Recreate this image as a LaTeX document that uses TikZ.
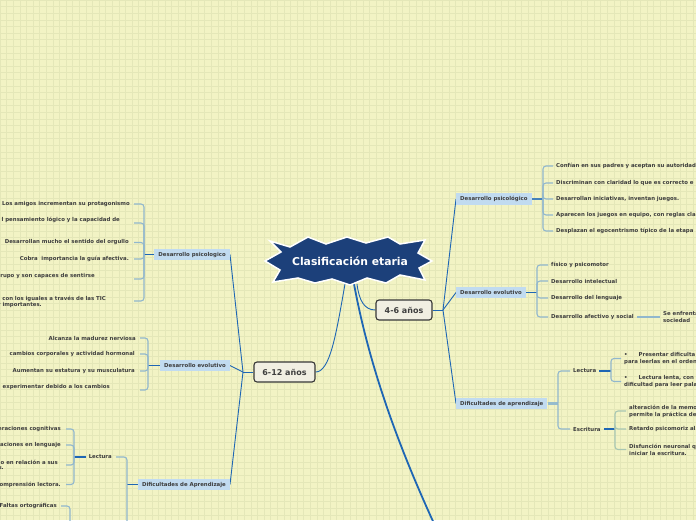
\documentclass[tikz,border=0pt]{standalone}
\usepackage{fontspec}
\newfontfamily\dv{DejaVu Sans}
\definecolor{bg}{RGB}{242,243,196}
\definecolor{gridc}{RGB}{228,231,184}
\definecolor{navy}{RGB}{28,64,122}
\definecolor{linkb}{RGB}{30,102,180}
\definecolor{labb}{RGB}{193,219,240}
\definecolor{brkc}{RGB}{145,183,205}
\definecolor{brkg}{RGB}{168,198,178}
\definecolor{txtc}{RGB}{62,62,62}
\definecolor{agef}{RGB}{241,239,226}
\definecolor{ageb}{RGB}{55,55,55}
\definecolor{stubc}{RGB}{70,130,185}
\definecolor{stubp}{RGB}{150,188,205}
\pgfdeclarelayer{bgl}
\pgfdeclarelayer{lines}
\pgfsetlayers{bgl,lines,main}
\tikzset{
 small/.style={font=\dv\bfseries\fontsize{5.4}{7}\selectfont, text=txtc, inner sep=0pt},
 ml/.style={small, align=left},
 lab/.style={small, fill=labb, inner xsep=4pt, inner ysep=3pt, text height=4.2pt, text depth=1.2pt},
 age/.style={draw=ageb, line width=1.1pt, fill=agef, rounded corners=3pt, font=\dv\bfseries\fontsize{8}{9}\selectfont, text=txtc, minimum height=20pt, inner sep=0pt},
 conn/.style={draw=linkb, line width=0.9pt},
 brk/.style={draw=brkc, line width=1.1pt, rounded corners=3pt},
 brkgr/.style={draw=brkg, line width=1.1pt, rounded corners=3pt},
 stub/.style={draw=linkb, line width=1.6pt},
 tick/.style={shorten >=3pt},
}
\begin{document}
\begin{tikzpicture}[x=1pt,y=-1pt]
\useasboundingbox (0,0) rectangle (696,520);
\begin{pgfonlayer}{bgl}
\fill[bg] (0,0) rectangle (696,520);
\foreach \g in {0,6.6,...,700} {\draw[gridc, line width=0.5pt] (\g,0) -- (\g,520);}
\foreach \g in {0,6.6,...,525} {\draw[gridc, line width=0.5pt] (0,\g) -- (696,\g);}
\end{pgfonlayer}

% central star
\fill[navy, draw=white, line width=1.5pt, line join=miter]
 (265,261) -- (281,252) -- (270,241) -- (290,247) -- (308,237) -- (326,244) -- (347,237) -- (366,243) -- (388,237) -- (400,244) -- (425,240) -- (418,253) -- (432,261) -- (419,268) -- (425,280) -- (400,275) -- (386,283) -- (367,278) -- (350,285) -- (332,279) -- (315,283) -- (298,278) -- (273,282) -- (280,270) -- cycle;
\node[font=\dv\bfseries\fontsize{10.8}{12}\selectfont, text=white, inner sep=0pt] (root) at (350,261) {Clasificación etaria};
\coordinate (s1) at (345,284);
\coordinate (s2) at (357,284);
\coordinate (s3) at (354,284);
\coordinate (off) at (437,530);

% age nodes
\node[age, minimum width=56pt] (a46) at (404,310) {4-6 años};
\node[age, minimum width=61pt] (a612) at (284.5,372) {6-12 años};

% ===== 4-6 años =====
\coordinate (j46) at (443,310);
\node[lab, anchor=west] (dp46) at (456,199) {Desarrollo psicológico};
\node[lab, anchor=west] (de46) at (456,292.5) {Desarrollo evolutivo};
\node[lab, anchor=west] (da46) at (456,403.5) {Dificultades de aprendizaje};

\coordinate (bp46) at (543,199);
\node[small, anchor=west] (r1) at (556,166) {Confían en sus padres y aceptan su autoridad};
\node[small, anchor=west] (r2) at (556,183) {Discriminan con claridad lo que es correcto e};
\node[small, anchor=west] (r3) at (556,199) {Desarrollan iniciativas, inventan juegos.};
\node[small, anchor=west] (r4) at (556,215) {Aparecen los juegos en equipo, con reglas cla};
\node[small, anchor=west] (r5) at (556,231) {Desplazan el egocentrismo típico de la etapa};

\coordinate (be46) at (537,292.5);
\node[small, anchor=west] (e1) at (551,265) {físico y psicomotor};
\node[small, anchor=west] (e2) at (551,281) {Desarrollo intelectual};
\node[small, anchor=west] (e3) at (551,298) {Desarrollo del lenguaje};
\node[small, anchor=west] (e4) at (551,317) {Desarrollo afectivo y social};
\node[ml, anchor=west] (se) at (663,317) {Se enfrenta\\sociedad};

\coordinate (bd46) at (558,403.5);
\node[small, anchor=west] (l46) at (573,371) {Lectura};
\node[small, anchor=west] (w46) at (573,429) {Escritura};
\coordinate (bl46) at (611,371);
\node[ml, anchor=west] (lc1) at (624,358.5) {•\hspace{11pt}Presentar dificulta\\para leerlas en el orden};
\node[ml, anchor=west] (lc2) at (624,381.5) {•\hspace{11pt}Lectura lenta, con\\dificultad para leer pala};
\coordinate (bw46) at (615,429);
\node[ml, anchor=west] (wc1) at (629,411) {alteración de la memo\\permite la práctica de};
\node[small, anchor=west] (wc2) at (629,429) {Retardo psicomoriz al};
\node[ml, anchor=west] (wc3) at (629,449.5) {Disfunción neuronal q\\iniciar la escritura.};

% ===== 6-12 años =====
\coordinate (j612) at (243,372);
\node[lab, anchor=east] (dp612) at (230,254.5) {Desarrollo psicologico};
\node[lab, anchor=east] (de612) at (230,365.5) {Desarrollo evolutivo};
\node[lab, anchor=east] (da612) at (230,484.5) {Dificultades de Aprendizaje};

\coordinate (bp612) at (144,254.5);
\node[small, anchor=east] (p1) at (130,204) {Los amigos incrementan su protagonismo};
\node[small, anchor=east] (p2) at (120,220) {l pensamiento lógico y la capacidad de};
\node[small, anchor=east] (p3) at (129,242.5) {Desarrollan mucho el sentido del orgullo};
\node[small, anchor=east] (p4) at (129,259) {Cobra\ \ importancia la guía afectiva.};
\node[small, anchor=east] (p5) at (95,276) {rupo y son capaces de sentirse};
\node[small, anchor=east] (p6) at (106,298.5) {con los iguales a través de las TIC};
\node[small, anchor=east] (p6b) at (42,305.5) {r importantes.};
\coordinate (pt1) at (134,204);
\coordinate (pt2) at (134,223);
\coordinate (pt3) at (134,242.5);
\coordinate (pt4) at (134,259);
\coordinate (pt5) at (134,279);
\coordinate (pt6) at (134,301);

\coordinate (be612) at (148,365.5);
\node[small, anchor=east] (v1) at (136,338) {Alcanza la madurez nerviosa};
\node[small, anchor=east] (v2) at (135,354) {cambios corporales y actividad hormonal};
\node[small, anchor=east] (v3) at (135,371) {Aumentan su estatura y su musculatura};
\node[small, anchor=east] (v4) at (110,387) {experimentar debido a los cambios};
\coordinate (vt1) at (140,338);
\coordinate (vt2) at (140,354);
\coordinate (vt3) at (140,371);
\coordinate (vt4) at (140,390);

\coordinate (bd612) at (127,484.5);
\node[small, anchor=east] (lec612) at (112,457) {Lectura};
\coordinate (lect) at (116,457);
\coordinate (esct) at (116,560);
\coordinate (bl612) at (74,457);
\node[small, anchor=east] (c1) at (61,429) {eraciones cognitivas};
\node[small, anchor=east] (c2) at (61,445) {aciones en lenguaje};
\node[small, anchor=east] (c3) at (58,462) {o en relación a sus};
\node[small, anchor=east] (c3b) at (4,468.5) {s.};
\node[small, anchor=east] (c4) at (61,484.5) {omprensión lectora.};
\coordinate (ct1) at (66,429);
\coordinate (ct2) at (66,445);
\coordinate (ct3) at (66,465);
\coordinate (ct4) at (66,484.5);
\node[small, anchor=east] (fo) at (57,506) {Faltas ortográficas};
\coordinate (fot) at (61,506);
\coordinate (bfo) at (70,545);

% ===== connectors =====
\begin{pgfonlayer}{lines}
\draw[conn] (s2) .. controls (359,300) and (364,310) .. (a46.west);
\draw[conn] (s1) .. controls (336,335) and (330,372) .. (a612.east);
\draw[linkb, line width=1.8pt] (s3) .. controls (370,370) and (400,450) .. (off);

\draw[conn] (a46.east) -- (j46);
\draw[conn] (j46) -- (dp46.west);
\draw[conn] (j46) -- (de46.west);
\draw[conn] (j46) -- (da46.west);

\draw[stubc, line width=1.8pt] (dp46.east) -- (bp46);
\foreach \n in {r1,r2,r3,r4,r5} {\draw[brk, tick] (bp46) |- (\n.west);}

\draw[linkb, line width=1.2pt] (de46.east) -- (be46);
\foreach \n in {e1,e2,e3,e4} {\draw[brk, tick] (be46) |- (\n.west);}
\draw[brk, shorten <=3pt, shorten >=3pt] (e4.east) -- (se.west);

\draw[stubp, line width=2.4pt] (da46.east) -- (bd46);
\foreach \n in {l46,w46} {\draw[brk, tick] (bd46) |- (\n.west);}
\draw[linkb, line width=1.1pt, shorten <=3pt] (l46.east) -- (bl46);
\foreach \n in {lc1,lc2} {\draw[brk, tick] (bl46) |- (\n.west);}
\draw[linkb, line width=1.1pt, shorten <=3pt] (w46.east) -- (bw46);
\foreach \n in {wc1,wc2,wc3} {\draw[brkgr, tick] (bw46) |- (\n.west);}

\draw[conn] (a612.west) -- (j612);
\draw[conn] (j612) -- (dp612.east);
\draw[conn] (j612) -- (de612.east);
\draw[conn] (j612) -- (da612.east);

\draw[stub] (dp612.west) -- (bp612);
\foreach \n in {pt1,pt2,pt3,pt4,pt5,pt6} {\draw[brk] (bp612) |- (\n);}
\draw[stub] (de612.west) -- (be612);
\foreach \n in {vt1,vt2,vt3,vt4} {\draw[brk] (be612) |- (\n);}
\draw[linkb, line width=1.3pt] (da612.west) -- (bd612);
\draw[brk] (bd612) |- (lect);
\draw[brk] (bd612) |- (esct);
\draw[stub, shorten <=3pt] (lec612.west) -- (bl612);
\foreach \n in {ct1,ct2,ct3,ct4} {\draw[brk] (bl612) |- (\n);}
\draw[brk] (bfo) |- (fot);
\end{pgfonlayer}
\end{tikzpicture}
\end{document}
